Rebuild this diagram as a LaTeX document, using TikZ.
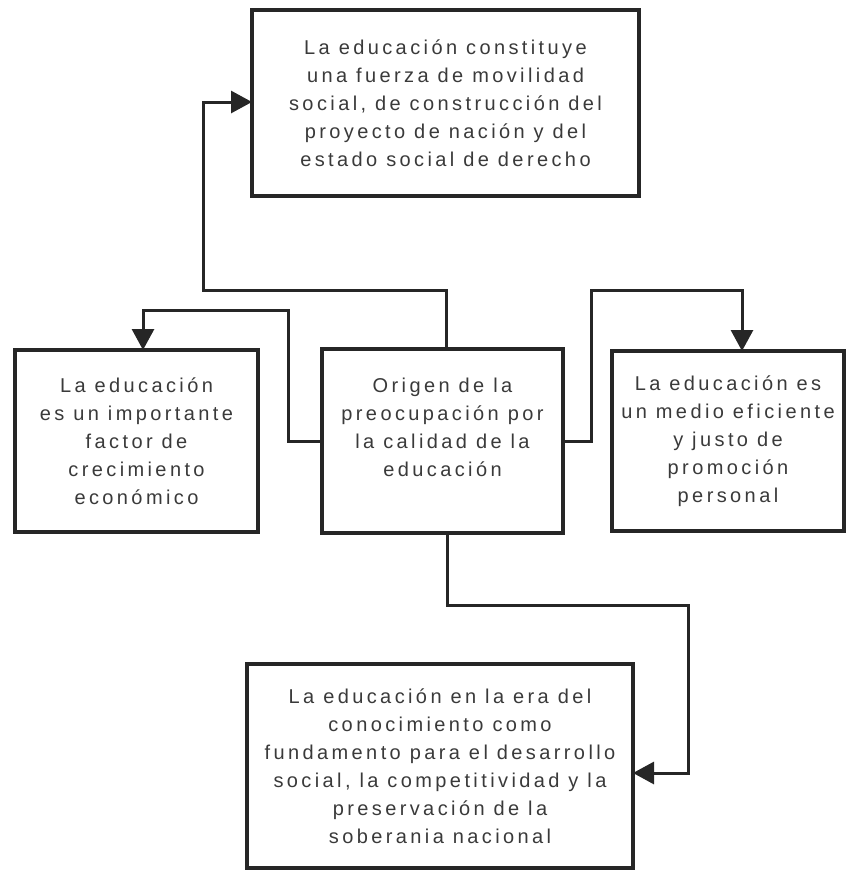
\documentclass[tikz,border=0pt]{standalone}
\usepackage{fontspec}
\setmainfont{Liberation Sans}
\newfontfamily\boxfont{Liberation Sans}[LetterSpace=17]
\usetikzlibrary{arrows.meta}
\definecolor{inkline}{HTML}{262626}
\definecolor{inktext}{HTML}{3A3A3A}
\tikzset{
  box/.style={draw=inkline, line width=3.2pt, fill=white, inner sep=0pt, outer sep=0pt,
    align=center, text=inktext,
    font=\boxfont\fontsize{20}{28}\selectfont},
  conn/.style={draw=inkline, line width=3pt, line join=miter,
    -{Triangle[length=21pt, width=22pt]}}
}
\begin{document}
\begin{tikzpicture}[x=1pt, y=-1pt]
  \useasboundingbox (0,0) rectangle (846,870);

  % boxes
  \node[box, minimum width=387pt, minimum height=186pt] (top) at (445.5,103)
    {La educación constituye\\una fuerza de movilidad\\social, de construcción del\\proyecto de nación y del\\estado social de derecho};
  \node[box, minimum width=243pt, minimum height=182pt] (lft) at (136.5,441)
    {La educación\\es un importante\\factor de\\crecimiento\\económico};
  \node[box, minimum width=241pt, minimum height=184pt] (cen) at (442.5,441)
    {Origen de la\\preocupación por\\la calidad de la\\educación\\\mbox{}};
  \node[box, minimum width=232pt, minimum height=180pt] (rgt) at (728,441)
    {La educación es\\un medio eficiente\\y justo de\\promoción\\personal};
  \node[box, minimum width=386pt, minimum height=204pt] (bot) at (440,766)
    {La educación en la era del\\conocimiento como\\fundamento para el desarrollo\\social, la competitividad y la\\preservación de la\\soberania nacional};

  % bend points of the connectors
  \coordinate (k1) at (203,290);
  \coordinate (k2) at (288,310);
  \coordinate (k3) at (591,290);
  \coordinate (k4) at (688,605);

  % connectors
  \draw[conn] ([xshift=3.5pt]cen.north) |- (k1) |- ([yshift=1pt]top.west);
  \draw[conn] (cen.west) -| (k2) -| ([xshift=6.5pt]lft.north);
  \draw[conn] (cen.east) -| (k3) -| ([xshift=14pt]rgt.north);
  \draw[conn] ([xshift=4.5pt]cen.south) |- (k4) |- ([yshift=-7pt]bot.east);
\end{tikzpicture}
\end{document}
